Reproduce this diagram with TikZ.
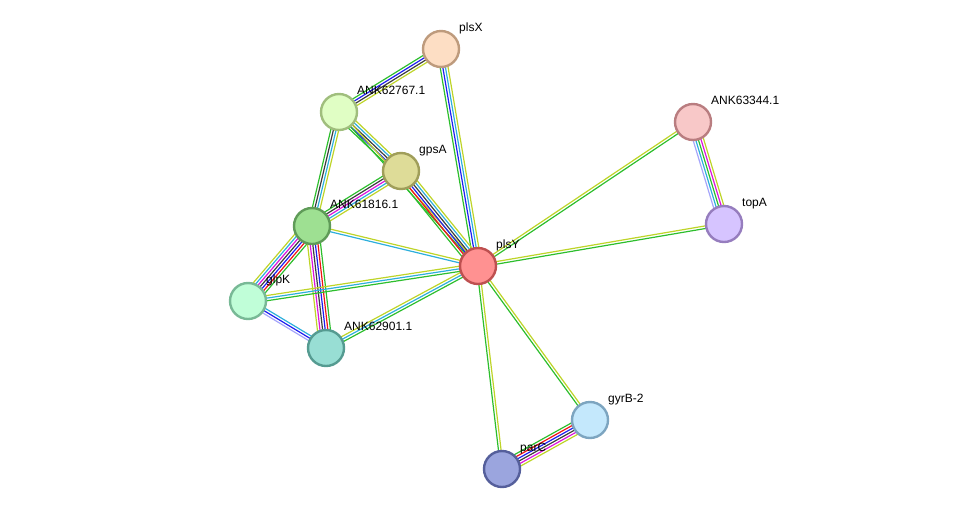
\documentclass[tikz,border=0pt]{standalone}
\usepackage{fontspec}
\setmainfont{Liberation Sans}
\usetikzlibrary{calc,backgrounds}

% evidence channel colours
\definecolor{strgreen}{RGB}{45,190,45}
\definecolor{strred}{RGB}{240,20,20}
\definecolor{strblue}{RGB}{30,30,240}
\definecolor{strblack}{RGB}{60,60,60}
\definecolor{strmagenta}{RGB}{220,20,220}
\definecolor{strcyan}{RGB}{45,175,220}
\definecolor{strlime}{RGB}{190,212,40}
\definecolor{strpurple}{RGB}{165,165,250}

% #1 from, #2 to, #3 number of lines, #4 colours
\newcommand{\evidence}[4]{%
  \foreach \col [count=\i] in {#4} {
    \pgfmathsetmacro{\off}{(\i-(#3+1)/2)*2.6}
    \draw[ev, \col] ($(#1)!\off pt!90:(#2)$) -- ($(#2)!\off pt!-90:(#1)$);
  }}

\begin{document}
\begin{tikzpicture}[
    x=1pt, y=-1pt,
    font=\fontsize{12}{14}\selectfont,
    prot/.style={circle, minimum size=36pt, inner sep=0pt, line width=2.4pt},
    lbl/.style={anchor=west, xshift=17pt, yshift=21pt, text height=8.5pt, text depth=2.5pt, inner sep=1pt},
    ev/.style={line width=1.2pt}]

    \useasboundingbox (0,0) rectangle (976,515);

    % proteins
    \node[prot, fill={rgb,255:red,253;green,222;blue,196}, draw={rgb,255:red,190;green,155;blue,125}] (plsX) at (441,49) {};
    \node[prot, fill={rgb,255:red,224;green,254;blue,196}, draw={rgb,255:red,160;green,190;blue,125}] (ANK62767) at (339,112) {};
    \node[prot, fill={rgb,255:red,222;green,220;blue,152}, draw={rgb,255:red,160;green,158;blue,90}] (gpsA) at (401,171) {};
    \node[prot, fill={rgb,255:red,158;green,224;blue,146}, draw={rgb,255:red,95;green,155;blue,88}] (ANK61816) at (312,226) {};
    \node[prot, fill={rgb,255:red,192;green,254;blue,216}, draw={rgb,255:red,120;green,185;blue,150}] (glpK) at (248,301) {};
    \node[prot, fill={rgb,255:red,152;green,222;blue,212}, draw={rgb,255:red,85;green,155;blue,145}] (ANK62901) at (326,348) {};
    \node[prot, fill={rgb,255:red,255;green,145;blue,145}, draw={rgb,255:red,190;green,80;blue,80}] (plsY) at (478,266) {};
    \node[prot, fill={rgb,255:red,248;green,200;blue,200}, draw={rgb,255:red,185;green,125;blue,128}] (ANK63344) at (693,122) {};
    \node[prot, fill={rgb,255:red,214;green,196;blue,255}, draw={rgb,255:red,150;green,125;blue,190}] (topA) at (724,224) {};
    \node[prot, fill={rgb,255:red,196;green,232;blue,252}, draw={rgb,255:red,125;green,165;blue,192}] (gyrB) at (590,420) {};
    \node[prot, fill={rgb,255:red,155;green,165;blue,222}, draw={rgb,255:red,85;green,95;blue,155}] (parC) at (502,469) {};

    \node[lbl] (plsXl) at (plsX) {plsX};
    \node[lbl] (ANK62767l) at (ANK62767) {ANK62767.1};
    \node[lbl] (gpsAl) at (gpsA) {gpsA};
    \node[lbl] (ANK61816l) at (ANK61816) {ANK61816.1};
    \node[lbl] (glpKl) at (glpK) {glpK};
    \node[lbl] (ANK62901l) at (ANK62901) {ANK62901.1};
    \node[lbl] (plsYl) at (plsY) {plsY};
    \node[lbl] (ANK63344l) at (ANK63344) {ANK63344.1};
    \node[lbl] (topAl) at (topA) {topA};
    \node[lbl] (gyrBl) at (gyrB) {gyrB-2};
    \node[lbl] (parCl) at (parC) {parC};

    % interactions
    \begin{scope}[on background layer]
    \evidence{plsX}{ANK62767}{4}{strgreen,strblue,strblack,strlime}
    \evidence{plsX}{plsY}{4}{strgreen,strblue,strcyan,strlime}
    \evidence{ANK62767}{gpsA}{5}{strgreen,strblue,strblack,strcyan,strlime}
    \evidence{ANK62767}{plsY}{2}{strgreen,strlime}
    \evidence{ANK62767}{ANK61816}{4}{strgreen,strblack,strcyan,strlime}
    \evidence{gpsA}{plsY}{6}{strgreen,strred,strblue,strblack,strcyan,strlime}
    \evidence{gpsA}{ANK61816}{5}{strgreen,strblack,strmagenta,strcyan,strlime}
    \evidence{ANK61816}{plsY}{2}{strcyan,strlime}
    \evidence{ANK61816}{glpK}{7}{strlime,strcyan,strmagenta,strblack,strblue,strred,strgreen}
    \evidence{ANK61816}{ANK62901}{6}{strlime,strmagenta,strblack,strblue,strred,strgreen}
    \evidence{glpK}{plsY}{3}{strgreen,strcyan,strlime}
    \evidence{glpK}{ANK62901}{3}{strpurple,strblue,strcyan}
    \evidence{ANK62901}{plsY}{3}{strgreen,strcyan,strlime}
    \evidence{plsY}{ANK63344}{2}{strgreen,strlime}
    \evidence{plsY}{topA}{2}{strgreen,strlime}
    \evidence{ANK63344}{topA}{5}{strpurple,strcyan,strgreen,strmagenta,strlime}
    \evidence{plsY}{parC}{2}{strgreen,strlime}
    \evidence{plsY}{gyrB}{2}{strgreen,strlime}
    \evidence{parC}{gyrB}{6}{strlime,strmagenta,strblack,strblue,strred,strgreen}
    \end{scope}
\end{tikzpicture}
\end{document}
